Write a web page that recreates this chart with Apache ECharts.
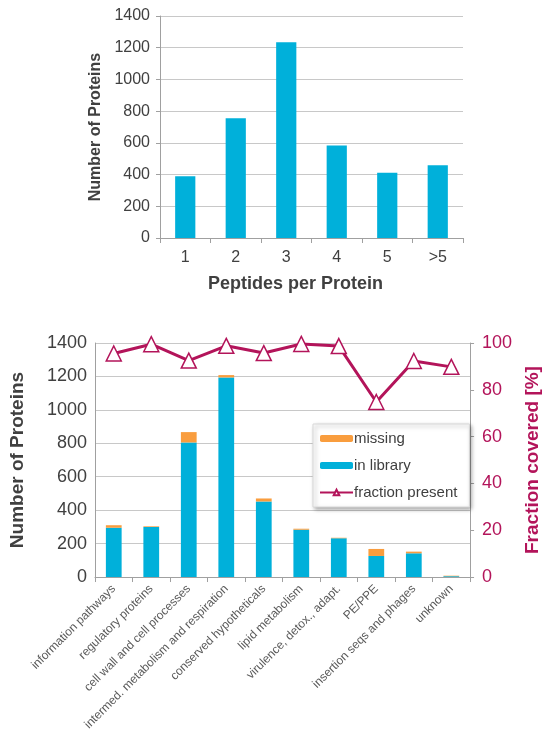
<!DOCTYPE html>
<html>
<head>
<meta charset="utf-8">
<script src="https://cdn.jsdelivr.net/npm/echarts@6/dist/echarts.min.js"></script>
<style>
  html, body { margin: 0; padding: 0; background: #fff; }
  #chart { width: 550px; height: 733px; }
</style>
</head>
<body>
<div id="chart"></div>
<script>
  // top chart: peptides per protein
  var peptideCats = ['1', '2', '3', '4', '5', '>5']
  var peptideCounts = [390, 755, 1234, 584, 412, 458]

  // bottom chart: functional categories
  var funcCats = ['information pathways', 'regulatory proteins', 'cell wall and cell processes',
    'intermed. metabolism and respiration', 'conserved hypotheticals', 'lipid metabolism',
    'virulence, detox., adapt.', 'PE/PPE', 'insertion seqs and phages', 'unknown']
  var inLibrary = [295, 300, 805, 1194, 452, 283, 232, 126, 142, 5]
  var missing = [15, 4, 62, 14, 18, 6, 3, 42, 10, 3]
  var fractionPresent = [95.5, 99.5, 92.5, 98.8, 95.7, 99.6, 98.7, 74.8, 92.3, 89.8]

  var blue = '#00b0da'
  var orange = '#f99d3e'
  var crimson = '#b3145a'
  var textColor = '#404040'
  var gridColor = '#c8c8c8'
  var plain = function (v) { return String(v) }

  var chart = echarts.init(document.getElementById('chart'))
  chart.setOption({
    animation: false,
    textStyle: { fontFamily: 'Liberation Sans, Arial, sans-serif' },
    grid: [
      { left: 160, right: 87, top: 16, height: 222 },
      { left: 95, right: 72, top: 343, height: 237.5 }
    ],
    /*  X轴 */
    xAxis: [{
      gridIndex: 0,
      type: 'category',
      data: peptideCats,
      name: 'Peptides per Protein',
      nameLocation: 'middle',
      nameGap: 37,
      nameTextStyle: { fontSize: 18, fontWeight: 'bold', color: textColor, padding: [0, 32, 0, 0] },
      axisLine: { lineStyle: { color: '#a0a0a0' } },
      axisTick: { show: true, length: 5, lineStyle: { color: '#a0a0a0' } },
      axisLabel: { fontSize: 16, color: textColor, margin: 12 }
    }, {
      gridIndex: 1,
      type: 'category',
      data: funcCats,
      axisLine: { lineStyle: { color: '#a0a0a0' } },
      axisTick: { show: true, length: 5, lineStyle: { color: '#a0a0a0' } },
      axisLabel: { fontSize: 12, color: '#595959', rotate: 45, interval: 0, margin: 10 }
    }],
    /*  Y轴 */
    yAxis: [{
      gridIndex: 0,
      type: 'value',
      min: 0, max: 1400, interval: 200,
      name: 'Number of Proteins',
      nameLocation: 'middle',
      nameGap: 56,
      nameTextStyle: { fontSize: 16, fontWeight: 'bold', color: textColor },
      axisLine: { show: true, lineStyle: { color: '#a0a0a0' } },
      axisTick: { show: true, length: 4, lineStyle: { color: '#a0a0a0' } },
      axisLabel: { fontSize: 16, color: textColor, margin: 10, formatter: plain },
      splitLine: { lineStyle: { color: gridColor } }
    }, {
      gridIndex: 1,
      type: 'value',
      min: 0, max: 1400, interval: 200,
      name: 'Number of Proteins',
      nameLocation: 'middle',
      nameGap: 68,
      nameTextStyle: { fontSize: 19, fontWeight: 'bold', color: textColor },
      axisLine: { show: true, lineStyle: { color: '#a0a0a0' } },
      axisTick: { show: false },
      axisLabel: { fontSize: 18, color: textColor, margin: 8, formatter: plain },
      splitLine: { lineStyle: { color: gridColor } }
    }, {
      gridIndex: 1,
      type: 'value',
      position: 'right',
      min: 0, max: 100, interval: 20,
      name: 'Fraction covered [%]',
      nameLocation: 'middle',
      nameRotate: 90,
      nameGap: 50,
      nameTextStyle: { fontSize: 19, fontWeight: 'bold', color: crimson },
      axisLine: { show: true, lineStyle: { color: '#a0a0a0' } },
      axisTick: { show: true, length: 4, lineStyle: { color: '#a0a0a0' } },
      axisLabel: { fontSize: 18, color: crimson, margin: 12 },
      splitLine: { show: false }
    }],
    /*  图表组件标记 */
    legend: {
      data: ['missing', 'in library', 'fraction present'],
      orient: 'vertical',
      left: 313,
      top: 424,
      padding: [7, 12, 7, 6],
      itemGap: 12,
      itemWidth: 33,
      itemHeight: 7,
      backgroundColor: '#fff',
      borderColor: '#d8d8d8',
      borderWidth: 1,
      shadowColor: 'rgba(0,0,0,0.35)',
      shadowBlur: 4,
      shadowOffsetX: 2,
      shadowOffsetY: 2,
      textStyle: { fontSize: 15, color: textColor, padding: [0, 0, 0, -4] }
    },
    series: [{
      type: 'bar',
      xAxisIndex: 0,
      yAxisIndex: 0,
      data: peptideCounts,
      barWidth: '40%',
      itemStyle: { color: blue }
    }, {
      name: 'in library',
      type: 'bar',
      xAxisIndex: 1,
      yAxisIndex: 1,
      stack: 'total',
      data: inLibrary,
      barWidth: '42%',
      itemStyle: { color: blue }
    }, {
      name: 'missing',
      type: 'bar',
      xAxisIndex: 1,
      yAxisIndex: 1,
      stack: 'total',
      data: missing,
      barWidth: '42%',
      itemStyle: { color: orange }
    }, {
      name: 'fraction present',
      type: 'line',
      xAxisIndex: 1,
      yAxisIndex: 2,
      data: fractionPresent,
      symbol: 'triangle',
      symbolSize: 15,
      lineStyle: { color: crimson, width: 3 },
      itemStyle: { color: '#fff', borderColor: crimson, borderWidth: 1.5 }
    }]
  })
</script>
</body>
</html>
